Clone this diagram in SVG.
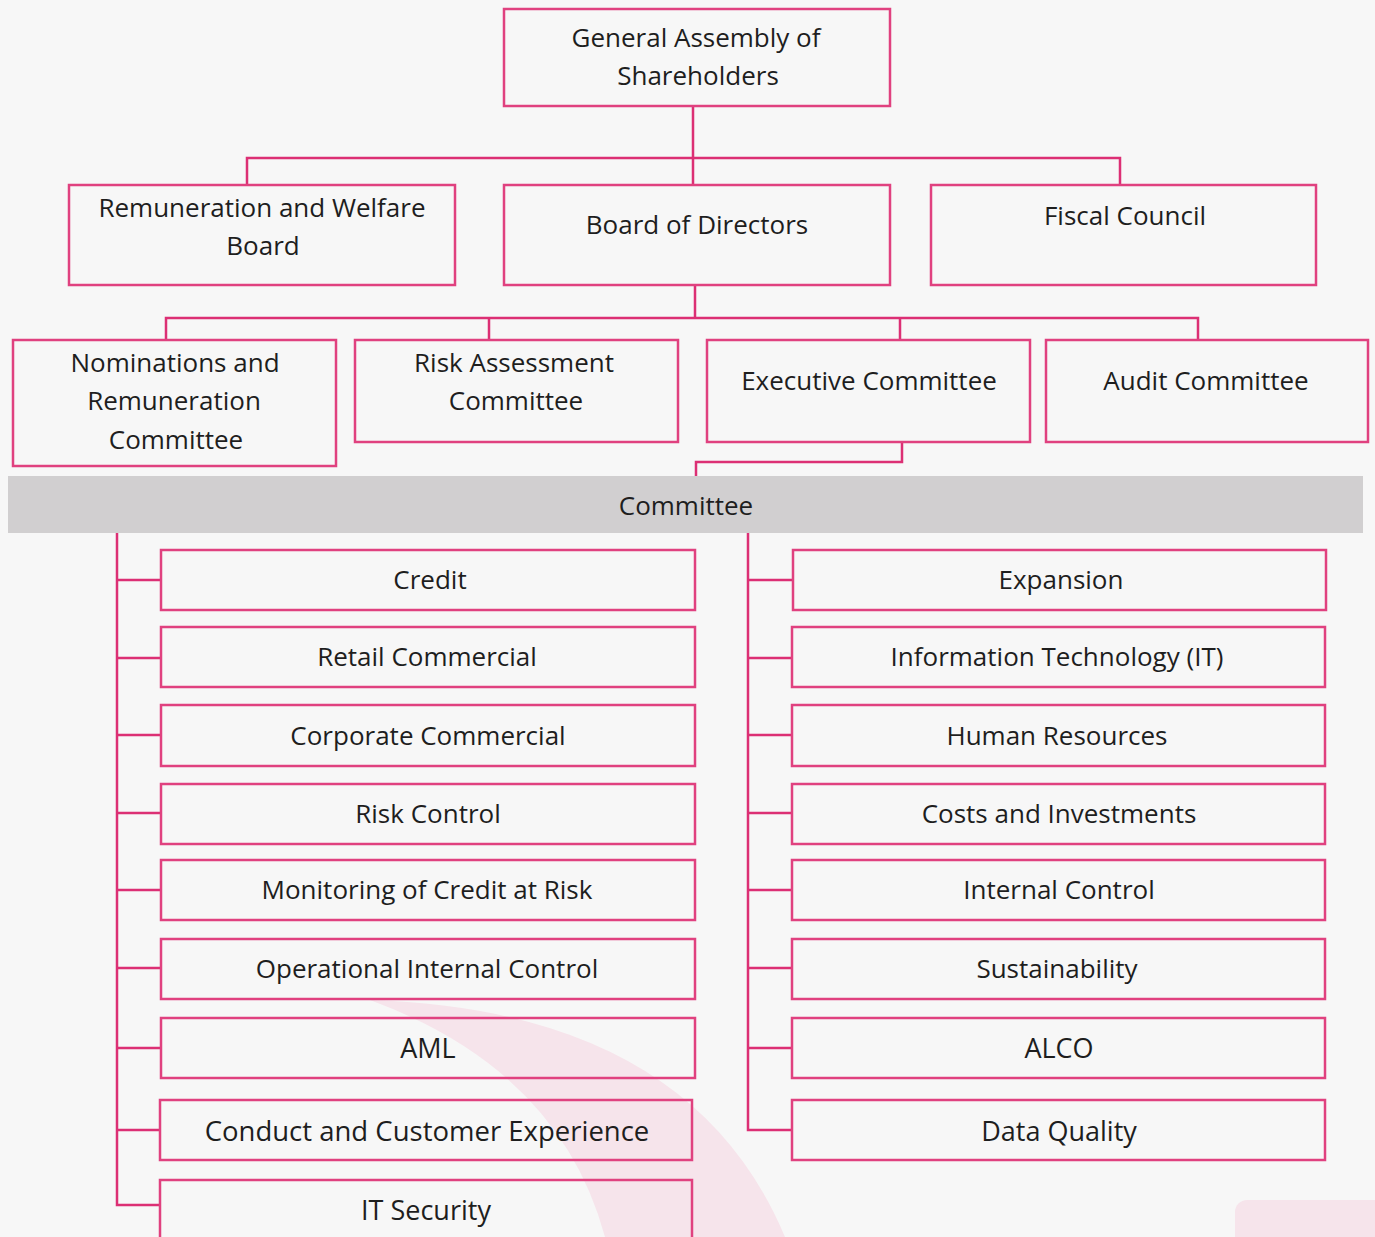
<svg xmlns="http://www.w3.org/2000/svg" width="1375" height="1237" viewBox="0 0 1375 1237">
<style>
.box{fill:none;stroke:#e0417f;stroke-width:2.5}
.t{font-family:"Open Sans","Noto Sans",sans-serif;font-size:26px;fill:#1e1e1e;text-anchor:middle}
.c{fill:none;stroke:#dc2f74;stroke-width:2.5}
</style>
<rect width="1375" height="1237" fill="#f7f7f7"/>
<g id="watermark">
<path d="M 370 1000 Q 690 1010 785 1237 L 605 1237 Q 560 1070 370 1000 Z" fill="#f6e4eb"/>
<rect x="1235" y="1200" width="160" height="60" rx="12" fill="#f6e4eb"/>
</g>
<g id="connectors">
<path class="c" d="M693 106 V185 M247 185 V158 H1120 V185"/>
<path class="c" d="M695 285 V318 M166 340 V318 H1198 V340 M489 318 V340 M900 318 V340"/>
<path class="c" d="M902 442 V462 H696 V476"/>
<path class="c" d="M117 533 V1205 H161 M117 580 H161 M117 658 H161 M117 735 H161 M117 813 H161 M117 890 H161 M117 968 H161 M117 1048 H161 M117 1130 H160"/>
<path class="c" d="M748 533 V1130 H792 M748 580 H793 M748 658 H792 M748 735 H792 M748 813 H792 M748 890 H792 M748 968 H792 M748 1048 H792"/>
</g>
<g id="n-assembly"><rect class="box" x="504" y="9" width="386" height="97"/><text class="t" x="696" y="47">General Assembly of</text><text class="t" x="698" y="85">Shareholders</text></g>
<g id="n-remuneration"><rect class="box" x="69" y="185" width="386" height="100"/><text class="t" x="262" y="217">Remuneration and Welfare</text><text class="t" x="263" y="255">Board</text></g>
<g id="n-board"><rect class="box" x="504" y="185" width="386" height="100"/><text class="t" x="697" y="234">Board of Directors</text></g>
<g id="n-fiscal"><rect class="box" x="931" y="185" width="385" height="100"/><text class="t" x="1125" y="225">Fiscal Council</text></g>
<g id="n-nominations"><rect class="box" x="13" y="340" width="323" height="126"/><text class="t" x="175" y="372">Nominations and</text><text class="t" x="174" y="410">Remuneration</text><text class="t" x="176" y="449">Committee</text></g>
<g id="n-risk-assessment"><rect class="box" x="355" y="340" width="323" height="102"/><text class="t" x="514" y="372">Risk Assessment</text><text class="t" x="516" y="410">Committee</text></g>
<g id="n-executive"><rect class="box" x="707" y="340" width="323" height="102"/><text class="t" x="869" y="390">Executive Committee</text></g>
<g id="n-audit"><rect class="box" x="1046" y="340" width="322" height="102"/><text class="t" x="1206" y="390">Audit Committee</text></g>
<g id="n-committee"><rect x="8" y="476" width="1355" height="57" fill="#d1cfd0"/><text class="t" x="686" y="515">Committee</text></g>
<g id="n-credit"><rect class="box" x="161" y="550" width="534" height="60"/><text class="t" x="430" y="589">Credit</text></g>
<g id="n-retail"><rect class="box" x="161" y="627" width="534" height="60"/><text class="t" x="427" y="666">Retail Commercial</text></g>
<g id="n-corporate"><rect class="box" x="161" y="705" width="534" height="61"/><text class="t" x="428" y="745">Corporate Commercial</text></g>
<g id="n-riskcontrol"><rect class="box" x="161" y="784" width="534" height="60"/><text class="t" x="428" y="823">Risk Control</text></g>
<g id="n-monitoring"><rect class="box" x="161" y="860" width="534" height="60"/><text class="t" x="427" y="899">Monitoring of Credit at Risk</text></g>
<g id="n-operational"><rect class="box" x="161" y="939" width="534" height="60"/><text class="t" x="427" y="978">Operational Internal Control</text></g>
<g id="n-aml"><rect class="box" x="161" y="1018" width="534" height="60"/><text class="t" x="428" y="1058" style="font-size:27px">AML</text></g>
<g id="n-conduct"><rect class="box" x="160" y="1100" width="532" height="60"/><text class="t" x="427" y="1141" style="font-size:27.5px">Conduct and Customer Experience</text></g>
<g id="n-itsecurity"><rect class="box" x="160" y="1180" width="532" height="70"/><text class="t" x="426" y="1220" style="font-size:27px">IT Security</text></g>
<g id="n-expansion"><rect class="box" x="793" y="550" width="533" height="60"/><text class="t" x="1061" y="589">Expansion</text></g>
<g id="n-it"><rect class="box" x="792" y="627" width="533" height="60"/><text class="t" x="1057" y="666">Information Technology (IT)</text></g>
<g id="n-hr"><rect class="box" x="792" y="705" width="533" height="61"/><text class="t" x="1057" y="745">Human Resources</text></g>
<g id="n-costs"><rect class="box" x="792" y="784" width="533" height="60"/><text class="t" x="1059" y="823">Costs and Investments</text></g>
<g id="n-internal"><rect class="box" x="792" y="860" width="533" height="60"/><text class="t" x="1059" y="899">Internal Control</text></g>
<g id="n-sustainability"><rect class="box" x="792" y="939" width="533" height="60"/><text class="t" x="1057" y="978">Sustainability</text></g>
<g id="n-alco"><rect class="box" x="792" y="1018" width="533" height="60"/><text class="t" x="1059" y="1058" style="font-size:27px">ALCO</text></g>
<g id="n-dataquality"><rect class="box" x="792" y="1100" width="533" height="60"/><text class="t" x="1059" y="1141" style="font-size:27px">Data Quality</text></g>
</svg>
